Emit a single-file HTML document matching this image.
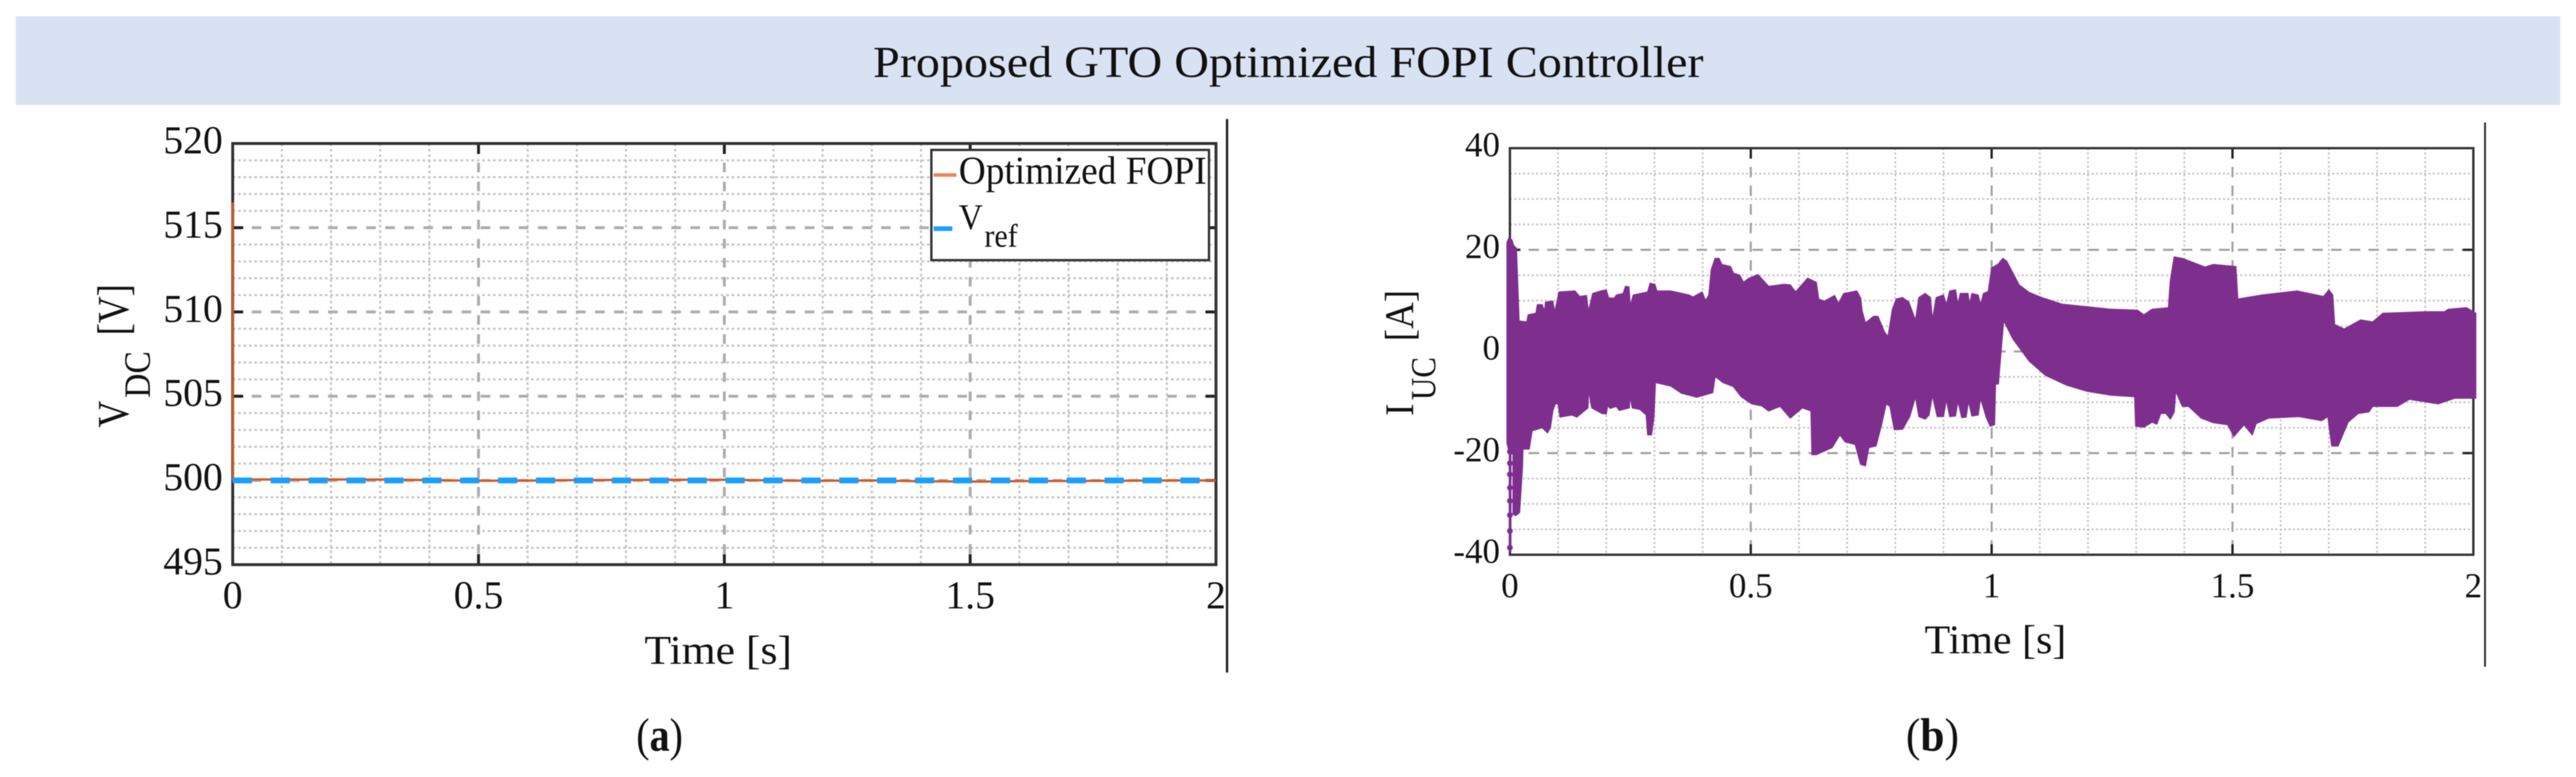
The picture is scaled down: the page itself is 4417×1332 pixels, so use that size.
<!DOCTYPE html>
<html lang="en">
<head>
<meta charset="utf-8">
<title>Proposed GTO Optimized FOPI Controller</title>
<style>
html,body{margin:0;padding:0;background:#fff;width:4417px;height:1332px;overflow:hidden}
svg{display:block;filter:blur(0.7px)}
text{font-family:"Liberation Serif",serif;fill:#111}
</style>
</head>
<body>
<svg id="fig" xmlns="http://www.w3.org/2000/svg" width="4417" height="1332" viewBox="0 0 4417 1332">
  <rect x="27" y="28" width="4363" height="152" fill="#d9e2f3"/>
  <text x="1497" y="132" font-size="76" textLength="1424" lengthAdjust="spacingAndGlyphs">Proposed GTO Optimized FOPI Controller</text>

  <g id="panelA"></g>
  <g id="panelB"></g>

  <g>
    <rect x="1597" y="257" width="476" height="189" fill="#fff" stroke="#333" stroke-width="4"/>
    <line x1="1601" y1="300" x2="1640" y2="300" stroke="#e8875a" stroke-width="6"/>
    <text x="1644" y="315" font-size="68" textLength="425" lengthAdjust="spacingAndGlyphs">Optimized FOPI</text>
    <line x1="1601" y1="392" x2="1633" y2="392" stroke="#1a9fff" stroke-width="8"/>
    <text x="1644" y="393" font-size="62" textLength="41" lengthAdjust="spacingAndGlyphs">V</text>
    <text x="1688" y="423" font-size="56" textLength="57" lengthAdjust="spacingAndGlyphs">ref</text>
  </g>

  <text x="1105" y="1138" font-size="70" textLength="253" lengthAdjust="spacingAndGlyphs">Time [s]</text>
  <g>
    <text transform="translate(220,733) rotate(-90)" font-size="76" textLength="46" lengthAdjust="spacingAndGlyphs">V</text>
    <text transform="translate(257,682) rotate(-90)" font-size="64" textLength="80" lengthAdjust="spacingAndGlyphs">DC</text>
    <text transform="translate(220,575) rotate(-90)" font-size="76" textLength="88" lengthAdjust="spacingAndGlyphs">[V]</text>
  </g>

  <text x="3300" y="1120" font-size="70" textLength="243" lengthAdjust="spacingAndGlyphs">Time [s]</text>
  <g>
    <text transform="translate(2423,713) rotate(-90)" font-size="70" textLength="21" lengthAdjust="spacingAndGlyphs">I</text>
    <text transform="translate(2461,686) rotate(-90)" font-size="60" textLength="74" lengthAdjust="spacingAndGlyphs">UC</text>
    <text transform="translate(2423,585) rotate(-90)" font-size="70" textLength="88" lengthAdjust="spacingAndGlyphs">[A]</text>
  </g>

  <rect x="2102" y="204" width="4" height="949" fill="#222"/>
  <rect x="4259.500" y="210" width="3" height="933" fill="#222"/>

  <text x="1091" y="1287" font-size="80" textLength="80" lengthAdjust="spacingAndGlyphs">(<tspan font-weight="bold">a</tspan>)</text>
  <text x="3268" y="1287" font-size="80" textLength="91" lengthAdjust="spacingAndGlyphs">(<tspan font-weight="bold">b</tspan>)</text>
</svg>

<script>
// ---- Panel (a): DC-link voltage ----
const vdcXTicks = [0, 0.5, 1, 1.5, 2];
const vdcXTickLabels = ['0', '0.5', '1', '1.5', '2'];
const vdcYTicks = [495, 500, 505, 510, 515, 520];
const vdcYTickLabels = ['495', '500', '505', '510', '515', '520'];
const vdcTime = [0, 0.0005, 0.05, 0.1, 0.2, 0.3, 0.4, 0.5, 0.6, 0.7, 0.8, 0.9, 1, 1.1, 1.2, 1.3, 1.4, 1.5, 1.55, 1.6, 1.7, 1.8, 1.9, 2];
const vdcValues = [516.5, 500.05, 500.06, 500.05, 500.06, 500.05, 500.02, 499.98, 499.99, 500.02, 500.03, 500.04, 500.04, 500, 499.98, 500, 499.95, 499.93, 499.94, 499.96, 499.97, 499.98, 500, 500];
const vrefTime = [0, 2];
const vrefValues = [500, 500];

// ---- Panel (b): ultracapacitor current envelope ----
const iucXTicks = [0, 0.5, 1, 1.5, 2];
const iucXTickLabels = ['0', '0.5', '1', '1.5', '2'];
const iucYTicks = [-40, -20, 0, 20, 40];
const iucYTickLabels = ['-40', '-20', '0', '20', '40'];
const iucUpperTime = [-.006,-.002,.004,.008,.0135,.019,.035,.038,.054,.057,.067,.072,.074,.089,.093,.102,.135,.145,.159,.163,.172,.189,.2,.205,.217,.221,.235,.24,.247,.25,.256,.286,.291,.301,.305,.334,.372,.38,.399,.406,.413,.418,.426,.434,.44,.458,.464,.477,.485,.496,.515,.537,.569,.582,.593,.618,.636,.641,.653,.674,.682,.693,.72,.728,.731,.738,.755,.764,.777,.785,.794,.802,.815,.828,.842,.849,.862,.873,.877,.885,.9,.906,.913,.925,.93,.935,.951,.954,.959,.972,.977,.983,.993,1,1.014,1.023,1.031,1.057,1.078,1.104,1.146,1.197,1.248,1.303,1.316,1.333,1.367,1.371,1.379,1.396,1.443,1.46,1.507,1.511,1.562,1.634,1.689,1.7,1.708,1.712,1.732,1.766,1.791,1.812,1.902,1.94,1.948,1.986,2.005];
const iucUpperValues = [21.5,22.3,22,20.8,20.3,6,5.8,7.2,7.5,9.2,9.2,7.8,9.7,9.9,7.7,11.7,11.9,10.8,11,7.8,11.4,11.9,12.1,10.5,10.5,11.1,11.4,12.8,12.7,8.9,11.1,11.7,13.4,13.2,11.9,11.9,11.1,10.7,11.7,10,11.1,16.1,18.3,18.3,17.1,16.7,15.4,15,13.6,14.4,15.1,12.8,13.2,13.1,11.7,14.4,13.6,10.3,9.9,11,9.4,11.4,11.9,10.5,8,5.6,6.9,6.9,3.9,2.9,8.3,10.3,10.6,9.7,6.1,10.6,11.4,10.6,6.1,10.6,11.1,9.2,11.9,12.1,9.2,11.4,11.4,9.2,11.4,11.1,9.2,11.4,11.8,16.4,17.2,18.3,17.8,13.1,11.6,10.6,9.3,8.8,8.3,8.1,7.2,8.3,8.6,13.9,18.6,18.3,16.6,17.1,16.7,10.3,11.1,11.9,10.8,12.1,11.1,5.3,4.4,6.2,5.8,7.5,7.8,7.8,8.3,8.6,7.5];
const iucLowerTime = [-.006,-.006,-.001,-.001,.002,.002,.0065,.0065,.012,.02,.026,.027,.04,.046,.067,.078,.084,.089,.094,.1,.104,.129,.139,.162,.163,.17,.191,.2,.203,.208,.221,.227,.248,.249,.254,.27,.283,.286,.294,.299,.302,.334,.356,.388,.421,.426,.442,.464,.48,.502,.523,.537,.561,.582,.607,.625,.627,.636,.669,.685,.696,.717,.728,.738,.745,.76,.772,.781,.789,.798,.815,.83,.842,.849,.862,.87,.877,.887,.9,.906,.913,.925,.93,.938,.947,.952,.959,.972,.977,.989,.997,1.006,1.008,1.014,1.02,1.025,1.044,1.078,1.112,1.155,1.197,1.248,1.297,1.299,1.316,1.333,1.343,1.351,1.362,1.371,1.379,1.382,1.396,1.409,1.435,1.46,1.49,1.503,1.524,1.541,1.549,1.575,1.638,1.685,1.698,1.706,1.719,1.74,1.761,1.783,1.791,1.842,1.867,1.927,1.961,2.005];
const iucLowerValues = [5,-18,-20,-39.3,-39.3,-20,-20,-32,-32.3,-31.7,-22.8,-19.2,-19.2,-15.6,-15,-16,-15,-11.7,-10.3,-10.3,-12.9,-12.5,-12.9,-11.1,-7.5,-11.1,-12.2,-12.3,-10.6,-11.2,-10.8,-11.6,-11.1,-8.6,-11.1,-11.4,-12.5,-16.4,-16.4,-12.8,-6.1,-6.8,-8.2,-9,-8.1,-4.9,-6.1,-6.9,-8.9,-10.3,-10.7,-11.7,-10.8,-13.1,-11.1,-11.7,-20.3,-20.3,-18.9,-16.4,-17.8,-18.3,-22.2,-22.5,-18.9,-18.6,-14.2,-10.3,-10.8,-15.4,-15.3,-12.8,-8.9,-12.8,-13.3,-12.5,-8.6,-12.8,-12.8,-9.4,-12.8,-12.7,-9.7,-13,-12.9,-9.7,-12.7,-12.5,-9.2,-13,-14.7,-14.4,-6.4,-6.4,.6,6.1,2.5,-1.9,-4.7,-6.6,-7.8,-8.6,-8.9,-14.7,-14.9,-13.9,-14.3,-12.2,-12.2,-13.3,-11.9,-7.8,-10.8,-10.8,-13.1,-14,-14.4,-16.7,-14.4,-16.4,-14.2,-13.1,-12.8,-13.6,-12.8,-18.6,-18.6,-13.9,-12.2,-11.9,-10.8,-10.8,-9.4,-10.3,-9.2,-9.2];
const iucStartDots = [-38.6, -35.3, -32.2, -29.4, -26.8, -24.2, -22, -19.7, -17.8, -15.8, -13.9, -11.7];

const NS = 'http://www.w3.org/2000/svg';
function mk(parent, tag) {
  const el = document.createElementNS(NS, tag);
  parent.appendChild(el);
  return el;
}
function seg(parent, x1, y1, x2, y2, color, w, dash) {
  const el = mk(parent, 'line');
  el.setAttribute('x1', x1);
  el.setAttribute('y1', y1);
  el.setAttribute('x2', x2);
  el.setAttribute('y2', y2);
  el.setAttribute('stroke', color);
  el.setAttribute('stroke-width', w);
  if (dash) el.setAttribute('stroke-dasharray', dash);
  return el;
}

function drawGrid(g, sx, sy, L, R, T, B, xMajor, yMajor, xMinorN, yMinorStep, yLo, yHi, st) {
  for (let i = 1; i < xMinorN; i++) {
    const t = i * 0.1;
    if (i % 5 === 0) continue;
    const el = seg(g, sx(t), T, sx(t), B, st.minor, st.minorW, st.minorDash);
    
    
  }
  for (let v = yLo + yMinorStep; v < yHi; v += yMinorStep) {
    if (yMajor.indexOf(v) >= 0) continue;
    const el = seg(g, L, sy(v), R, sy(v), st.minor, st.minorW, st.minorDash);
    
    
  }
  xMajor.slice(1, -1).forEach(function (t) {
    const el = seg(g, sx(t), T, sx(t), B, st.major, st.majorW, st.majorDash);
    
    
  });
  yMajor.slice(1, -1).forEach(function (v) {
    const el = seg(g, L, sy(v), R, sy(v), st.major, st.majorW, st.majorDash);
    
    
  });
}

function drawFrame(g, sx, sy, L, R, T, B, xMajor, yMajor, st) {
  xMajor.slice(1, -1).forEach(function (t) {
    const a = seg(g, sx(t), T, sx(t), T + st.tick, '#222', st.tickW);
    
    
    const b = seg(g, sx(t), B, sx(t), B - st.tick, '#222', st.tickW);
    
    
  });
  yMajor.slice(1, -1).forEach(function (v) {
    const a = seg(g, L, sy(v), L + st.tick, sy(v), '#222', st.tickW);
    
    
    const b = seg(g, R, sy(v), R - st.tick, sy(v), '#222', st.tickW);
    
    
  });
  const f = mk(g, 'rect');
  f.setAttribute('x', L);
  f.setAttribute('y', T);
  f.setAttribute('width', R - L);
  f.setAttribute('height', B - T);
  f.setAttribute('fill', 'none');
  f.setAttribute('stroke', '#333');
  f.setAttribute('stroke-width', st.frameW);
  
  
}

function drawLabels(g, sx, sy, xTicks, xLabels, yTicks, yLabels, st) {
  xTicks.forEach(function (t, i) {
    const el = mk(g, 'text');
    el.textContent = xLabels[i];
    el.setAttribute('x', sx(t));
    el.setAttribute('y', st.xBase);
    el.setAttribute('font-size', st.font);
    el.setAttribute('text-anchor', 'middle');
    
    
  });
  yTicks.forEach(function (v, i) {
    const el = mk(g, 'text');
    el.textContent = yLabels[i];
    el.setAttribute('x', st.yRight);
    el.setAttribute('y', sy(v) + st.yOff);
    el.setAttribute('font-size', st.font);
    el.setAttribute('text-anchor', 'end');
    
    
  });
}

// Panel (a)
(function () {
  const g = document.getElementById('panelA');
  const L = 399, R = 2085, T = 246, B = 968;
  const sx = function (t) { return L + (t - 0) / 2 * (R - L); };
  const sy = function (v) { return B - (v - 495) / 25 * (B - T); };
  const st = { minor: '#c4c4c4', minorW: 3.5, minorDash: '4.5 4.8', major: '#adadad', majorW: 5, majorDash: '16.500 16.200', tick: 18, tickW: 5, frameW: 5 };
  drawGrid(g, sx, sy, L, R, T, B, vdcXTicks, vdcYTicks, 20, 1, 495, 520, st);
  drawFrame(g, sx, sy, L, R, T, B, vdcXTicks, vdcYTicks, st);
  drawLabels(g, sx, sy, vdcXTicks, vdcXTickLabels, vdcYTicks, vdcYTickLabels, { xBase: 1043, font: 68, yRight: 382, yOff: 17 });

  const orange = mk(g, 'polyline');
  orange.setAttribute('points', vdcTime.map(function (t, i) { return sx(t) + ',' + sy(vdcValues[i]); }).join(' '));
  orange.setAttribute('fill', 'none');
  orange.setAttribute('stroke', '#cf5a28');
  orange.setAttribute('stroke-width', 4);
  
  

  const blue = mk(g, 'polyline');
  blue.setAttribute('points', vrefTime.map(function (t, i) { return sx(t) + ',' + sy(vrefValues[i]); }).join(' '));
  blue.setAttribute('fill', 'none');
  blue.setAttribute('stroke', '#1a9fff');
  blue.setAttribute('stroke-width', 10);
  blue.setAttribute('stroke-dasharray', '33 32');
  
  
})();

// Panel (b)
(function () {
  const g = document.getElementById('panelB');
  const L = 2589, R = 4241, T = 254, B = 951;
  const sx = function (t) { return L + (t - 0) / 2 * (R - L); };
  const sy = function (v) { return B - (v + 40) / 80 * (B - T); };
  const st = { minor: '#c4c4c4', minorW: 3, minorDash: '3.5 4', major: '#a0a0a0', majorW: 3.5, majorDash: '18 14', tick: 18, tickW: 4, frameW: 4 };
  drawGrid(g, sx, sy, L, R, T, B, iucXTicks, iucYTicks, 20, 5, -40, 40, st);
  drawFrame(g, sx, sy, L, R, T, B, iucXTicks, iucYTicks, st);
  drawLabels(g, sx, sy, iucXTicks, iucXTickLabels, iucYTicks, iucYTickLabels, { xBase: 1024, font: 60, yRight: 2572, yOff: 14 });

  const upper = iucUpperTime.map(function (t, i) { return sx(t) + ',' + sy(iucUpperValues[i]); });
  const lower = iucLowerTime.map(function (t, i) { return sx(t) + ',' + sy(iucLowerValues[i]); }).reverse();
  const band = mk(g, 'polygon');
  band.setAttribute('points', upper.concat(lower).join(' '));
  band.setAttribute('fill', '#7e2f8e');
  band.setAttribute('stroke', '#7e2f8e');
  band.setAttribute('stroke-width', 2);
  band.setAttribute('stroke-linejoin', 'round');
  
  

  iucStartDots.forEach(function (v) {
    const c = mk(g, 'circle');
    c.setAttribute('cx', sx(0));
    c.setAttribute('cy', sy(v));
    c.setAttribute('r', 5);
    c.setAttribute('fill', '#7e2f8e');
    
    
  });
})();
</script>
</body>
</html>
